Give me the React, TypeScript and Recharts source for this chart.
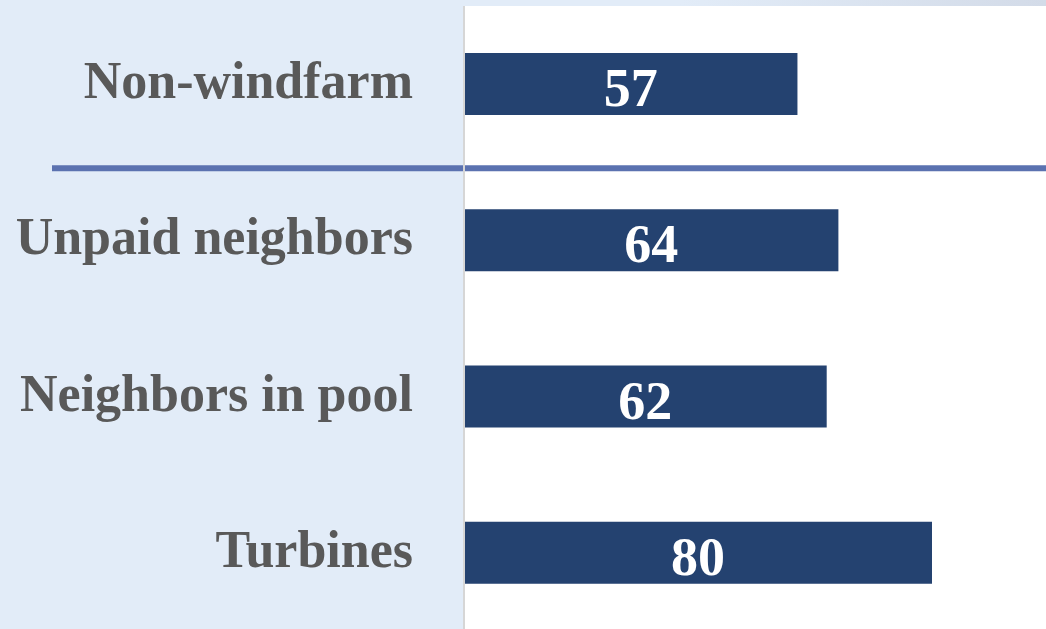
import { Bar, BarChart, CartesianGrid, LabelList, ReferenceLine, XAxis, YAxis } from 'recharts'

const groups = ['Non-windfarm', 'Unpaid neighbors', 'Neighbors in pool', 'Turbines']
const scores = [57, 64, 62, 80]

const data = groups.map((name, i) => ({ name, value: scores[i] }))

const font = '"Liberation Serif", "Times New Roman", serif'

function GroupTick(props: any) {
  const { x, y, payload } = props
  return (
    <text
      x={x}
      y={y + 14}
      textAnchor='end'
      fill='#595959'
      fontSize={52}
      fontWeight={700}
      fontFamily={font}
    >
      {payload.value}
    </text>
  )
}

function ValueLabel(props: any) {
  const { x, y, width, height, value } = props
  return (
    <text
      x={x + width / 2}
      y={y + height / 2 + 22}
      textAnchor='middle'
      fill='#ffffff'
      fontSize={54}
      fontWeight={700}
      fontFamily={font}
    >
      {value}
    </text>
  )
}

function Divider(props: any) {
  const { y1, x2 } = props
  return <line x1={52} y1={y1 + 6} x2={x2} y2={y1 + 6} stroke='#5b72b0' strokeWidth={6} />
}

export default function App() {
  return (
    <div
      style={{
        position: 'absolute',
        left: 0,
        top: 0,
        width: 1046,
        height: 629,
        overflow: 'hidden',
        background:
          'linear-gradient(to right, #e2ecf8 65%, #d3dbe8 100%) top / 100% 6px no-repeat, #e2ecf8',
      }}
    >
      <BarChart
        width={1049}
        height={631}
        data={data}
        layout='vertical'
        margin={{ top: 6, right: 0, bottom: 0, left: 0 }}
      >
        <CartesianGrid fill='#ffffff' horizontal={false} vertical={false} />
        <XAxis type='number' domain={[0, 100]} hide />
        <YAxis
          type='category'
          dataKey='name'
          width={464}
          tickLine={false}
          tickSize={0}
          tickMargin={51}
          axisLine={{ stroke: '#d6d6d6', strokeWidth: 2 }}
          tick={<GroupTick />}
        />
        <Bar dataKey='value' fill='#244270' barSize={62} isAnimationActive={false}>
          <LabelList dataKey='value' content={<ValueLabel />} />
        </Bar>
        <ReferenceLine
          y='Unpaid neighbors'
          position='start'
          ifOverflow='visible'
          shape={<Divider />}
        />
      </BarChart>
    </div>
  )
}
